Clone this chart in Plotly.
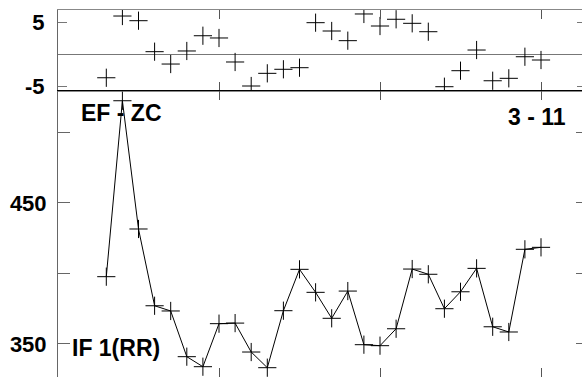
import plotly.graph_objects as go

# ---- data ----
beats = list(range(3, 31))
resid = [-3.66, 5.98, 5.25, 0.41, -1.52, 0.52, 2.9, 2.55, -1.2, -4.95, -2.97, -2.34,
         -2.09, 4.94, 3.64, 2.13, 6.3, 4.42, 5.47, 4.84, 3.53, -5.06, -2.56, 0.67,
         -4.13, -3.75, -0.38, -0.89]
rr = [397.7, 522.4, 431.5, 377.1, 373.4, 341.0, 333.9, 364.4, 364.8, 344.3, 333.2,
      373.6, 402.9, 386.6, 368.2, 387.5, 349.5, 348.8, 360.8, 403.1, 399.4, 375.0,
      387.0, 403.6, 362.2, 358.5, 417.1, 418.5]
top_tickvals = [-5, 5]
top_ticktext = ["-5", "5"]
low_tickvals = [350, 400, 450, 500]
low_ticktext = ["350", "", "450", ""]
x_tickvals = [0, 10, 20, 30]

FONT = "Liberation Sans, Arial, sans-serif"
W, H = 582, 377
L, T = 58, 10
split = (H - 91) / (H - T)
top_range = [-5.73, 6.92]
low_range = [326.6, 529.3]

fig = go.Figure()
fig.add_trace(go.Scatter(
    x=beats, y=resid, mode="markers", xaxis="x", yaxis="y",
    marker=dict(symbol="cross-thin", size=13, line=dict(color="black", width=1)),
    showlegend=False, hoverinfo="skip"))
fig.add_trace(go.Scatter(
    x=beats, y=rr, mode="lines+markers", xaxis="x2", yaxis="y2",
    line=dict(color="black", width=1),
    marker=dict(symbol="cross-thin", size=13, line=dict(color="black", width=1)),
    showlegend=False, hoverinfo="skip"))
# invisible twins so the right-hand tick axes get drawn
fig.add_trace(go.Scatter(x=beats, y=resid, mode="markers", xaxis="x", yaxis="y3",
                         marker=dict(opacity=0), showlegend=False, hoverinfo="skip"))
fig.add_trace(go.Scatter(x=beats, y=rr, mode="markers", xaxis="x2", yaxis="y4",
                         marker=dict(opacity=0), showlegend=False, hoverinfo="skip"))

xr = [0, (W - L) / 16.1]
tickfont = dict(family=FONT, size=22, color="black", weight="bold")
common = dict(showgrid=False, automargin=False)
fig.update_layout(
    template="none",
    width=W, height=H, autosize=False,
    margin=dict(l=L, r=0, t=T, b=0, pad=0),
    paper_bgcolor="white", plot_bgcolor="white",
    font=dict(family=FONT, size=22, color="black"),
    xaxis=dict(domain=[0, 1], anchor="y", range=xr, tickvals=x_tickvals,
               showticklabels=False, ticks="inside", ticklen=9, tickcolor="#555",
               showline=True, linecolor="#888", mirror="ticks",
               zeroline=False, **common),
    yaxis=dict(domain=[split, 1], anchor="x", range=top_range,
               tickvals=top_tickvals, ticktext=top_ticktext, ticks="inside",
               ticklen=9, tickcolor="#777", showline=True, linecolor="#666",
               mirror=False, zeroline=True, zerolinecolor="#777",
               zerolinewidth=1, ticklabelstandoff=8, tickfont=tickfont, **common),
    yaxis3=dict(overlaying="y", anchor="x", side="right", range=top_range,
                tickvals=top_tickvals, showticklabels=False, ticks="inside",
                ticklen=5, tickcolor="#777", showline=False,
                zeroline=False, **common),
    xaxis2=dict(domain=[0, 1], anchor="y2", range=xr, tickvals=x_tickvals,
                showticklabels=False, ticks="inside", ticklen=9, tickcolor="#555",
                showline=True, linecolor="black", mirror="ticks",
                zeroline=False, **common),
    yaxis2=dict(domain=[0, split], anchor="x2", range=low_range,
                tickvals=low_tickvals, ticktext=low_ticktext, ticks="inside",
                ticklen=12, tickcolor="#666", showline=True, linecolor="#666",
                mirror=False, zeroline=False, ticklabelstandoff=6,
                tickfont=tickfont, **common),
    yaxis4=dict(overlaying="y2", anchor="x2", side="right", range=low_range,
                tickvals=low_tickvals, showticklabels=False, ticks="inside",
                ticklen=6, tickcolor="#666", showline=False,
                zeroline=False, **common),
)

bold = dict(family=FONT, size=23, color="black", weight="bold")
fig.add_annotation(text="EF - ZC", x=(121 - L) / (W - L), y=(H - 113) / (H - T),
                   xref="paper", yref="paper", showarrow=False, font=bold,
                   xanchor="center", yanchor="middle")
fig.add_annotation(text="3 - 11", x=(537 - L) / (W - L), y=(H - 117) / (H - T),
                   xref="paper", yref="paper", showarrow=False, font=bold,
                   xanchor="center", yanchor="middle")
fig.add_annotation(text="IF 1(RR)", x=(116 - L) / (W - L), y=(H - 348) / (H - T),
                   xref="paper", yref="paper", showarrow=False, font=bold,
                   xanchor="center", yanchor="middle")

fig.write_html("out.html",
               config={"displayModeBar": False, "responsive": False},
               post_script="document.body.style.margin='0';"
                           "document.body.style.overflow='hidden';")
